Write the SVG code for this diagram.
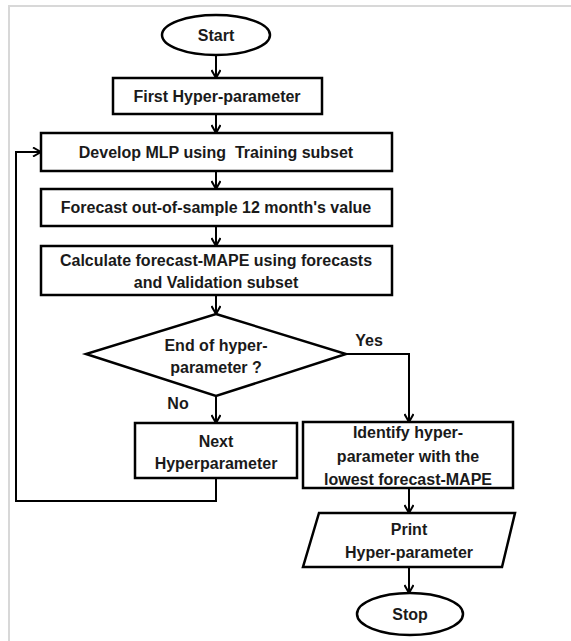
<svg xmlns="http://www.w3.org/2000/svg" width="571" height="641" viewBox="0 0 571 641">
  <defs>
    <marker id="arrow" viewBox="0 0 10 10" refX="9" refY="5" markerWidth="10" markerHeight="10" markerUnits="userSpaceOnUse" orient="auto">
      <path d="M1,0.5 L9,5 L1,9.5" fill="none" stroke="#000" stroke-width="2"/>
    </marker>
  </defs>
  <style>
    .shape { fill: #fff; stroke: #000; stroke-width: 2.5; }
    .conn { fill: none; stroke: #000; stroke-width: 2; marker-end: url(#arrow); }
    .line { fill: none; stroke: #000; stroke-width: 2; }
    text { font-family: "Liberation Sans", Arial, sans-serif; font-weight: bold; font-size: 16px; fill: #1a1a1a; text-anchor: middle; }
  </style>
  <rect width="571" height="641" fill="#fff"/>
  <!-- outer frame -->
  <path d="M9,641 L9,6 L571,6" fill="none" stroke="#d8d8d8" stroke-width="2"/>

  <g id="connectors">
    <line class="conn" x1="216" y1="55" x2="216" y2="78"/>
    <line class="conn" x1="216" y1="114" x2="216" y2="133"/>
    <line class="conn" x1="216" y1="171" x2="216" y2="189"/>
    <line class="conn" x1="216" y1="226" x2="216" y2="246"/>
    <line class="conn" x1="216" y1="295" x2="216" y2="314"/>
    <line class="conn" x1="216" y1="396" x2="216" y2="423"/>
    <polyline class="conn" points="346,354 409,354 409,422"/>
    <polyline class="conn" points="216,478 216,501 16,501 16,152 41,152"/>
    <line class="conn" x1="409" y1="488" x2="409" y2="513"/>
    <line class="conn" x1="409" y1="567" x2="409" y2="593"/>
    <text x="369" y="346">Yes</text>
    <text x="178" y="409">No</text>
  </g>

  <g id="start">
    <ellipse class="shape" cx="216" cy="35" rx="54" ry="20"/>
    <text x="216" y="41">Start</text>
  </g>
  <g id="first">
    <rect class="shape" x="113" y="78" width="209" height="36"/>
    <text x="217" y="102">First Hyper-parameter</text>
  </g>
  <g id="develop">
    <rect class="shape" x="41" y="133" width="351" height="38"/>
    <text x="216" y="158" xml:space="preserve">Develop MLP using  Training subset</text>
  </g>
  <g id="forecast">
    <rect class="shape" x="41" y="189" width="351" height="37"/>
    <text x="216" y="213">Forecast out-of-sample 12 month's value</text>
  </g>
  <g id="calculate">
    <rect class="shape" x="41" y="246" width="351" height="49"/>
    <text x="216" y="266">Calculate forecast-MAPE using forecasts</text>
    <text x="216" y="288">and Validation subset</text>
  </g>
  <g id="decision">
    <polygon class="shape" points="216,314 346,354 216,396 86,354"/>
    <text x="216" y="351">End of hyper-</text>
    <text x="216" y="373">parameter ?</text>
  </g>
  <g id="next">
    <rect class="shape" x="135" y="423" width="162" height="55"/>
    <text x="216" y="447">Next</text>
    <text x="216" y="469">Hyperparameter</text>
  </g>
  <g id="identify">
    <rect class="shape" x="303" y="422" width="210" height="66"/>
    <text x="408" y="438">Identify hyper-</text>
    <text x="408" y="462">parameter with the</text>
    <text x="408" y="485">lowest forecast-MAPE</text>
  </g>
  <g id="print">
    <polygon class="shape" points="319,513 515,513 502,567 303,567"/>
    <text x="409" y="535">Print</text>
    <text x="409" y="558">Hyper-parameter</text>
  </g>
  <g id="stop">
    <ellipse class="shape" cx="410" cy="614" rx="53" ry="21"/>
    <text x="410" y="620">Stop</text>
  </g>
</svg>
